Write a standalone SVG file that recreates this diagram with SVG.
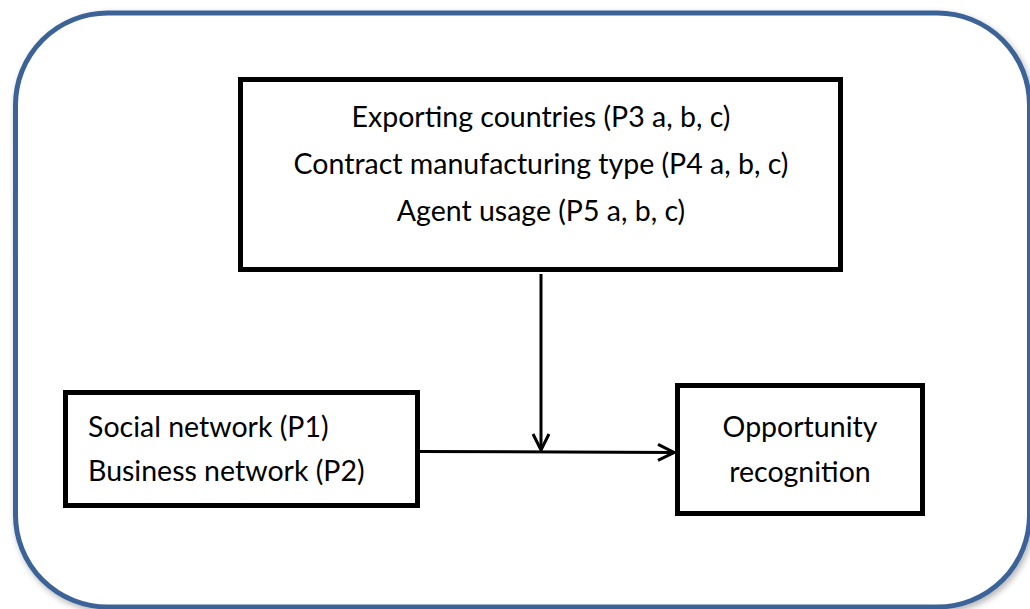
<svg xmlns="http://www.w3.org/2000/svg" width="1030" height="609" viewBox="0 0 1030 609">
  <defs>
    <filter id="shadow" x="-5%" y="-5%" width="110%" height="110%">
      <feGaussianBlur in="SourceAlpha" stdDeviation="3"/>
      <feOffset dx="2" dy="3" result="b"/>
      <feFlood flood-color="#000" flood-opacity="0.3"/>
      <feComposite in2="b" operator="in"/>
      <feMerge><feMergeNode/><feMergeNode in="SourceGraphic"/></feMerge>
    </filter>
    <marker id="arrow" viewBox="0 0 20 20" refX="18" refY="10" markerWidth="20" markerHeight="20" markerUnits="userSpaceOnUse" orient="auto">
      <path d="M2,2 L18,10 L2,18" fill="none" stroke="#000" stroke-width="3"/>
    </marker>
    <style>
      .box { fill: #fff; stroke: #000; stroke-width: 5; }
      .t { font-family: Lato, "Liberation Sans", sans-serif; font-size: 28.5px; fill: #000; }
      .c { text-anchor: middle; }
      .conn { stroke: #000; stroke-width: 3; fill: none; marker-end: url(#arrow); }
    </style>
  </defs>
  <rect width="1030" height="609" fill="#fff"/>
  <g id="frame">
    <rect x="15.5" y="13" width="1014" height="594" rx="92" ry="92" fill="#fff" stroke="#3b6497" stroke-width="5" filter="url(#shadow)"/>
  </g>
  <g id="moderators">
    <rect class="box" x="240.5" y="79.5" width="600" height="190"/>
    <text class="t c" x="541" y="127">Exporting countries (P3 a, b, c)</text>
    <text class="t c" x="541" y="174">Contract manufacturing type (P4 a, b, c)</text>
    <text class="t c" x="541" y="221">Agent usage (P5 a, b, c)</text>
  </g>
  <g id="networks">
    <rect class="box" x="65.5" y="392.5" width="352" height="113"/>
    <text class="t" x="88" y="437">Social network (P1)</text>
    <text class="t" x="88" y="481">Business network (P2)</text>
  </g>
  <g id="opportunity">
    <rect class="box" x="677.5" y="385.5" width="245" height="128"/>
    <text class="t c" x="800" y="437">Opportunity</text>
    <text class="t c" x="800" y="482">recognition</text>
  </g>
  <g id="connectors">
    <line class="conn" x1="541" y1="274" x2="541" y2="450"/>
    <line class="conn" x1="420" y1="451.5" x2="674" y2="452.5"/>
  </g>
</svg>
